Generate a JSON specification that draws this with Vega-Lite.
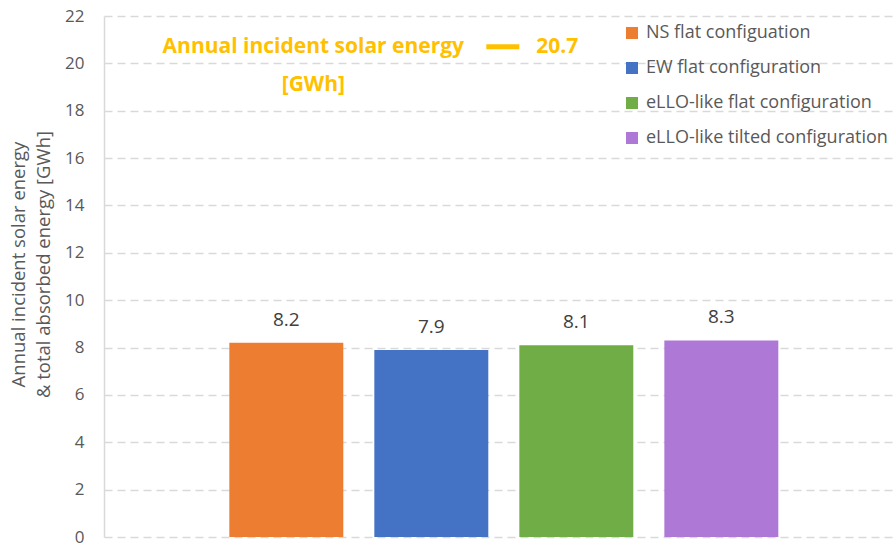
{
  "$schema": "https://vega.github.io/schema/vega-lite/v6.json",
  "width": 790,
  "height": 521,
  "autosize": {"type": "none"},
  "padding": {"left": 104, "top": 16, "right": 0, "bottom": 10},
  "background": "white",
  "config": {
    "font": "Open Sans",
    "view": {"stroke": null}
  },
  "datasets": {
    "bars": [
      {"config": "NS flat configuation", "energy": 8.2},
      {"config": "EW flat configuration", "energy": 7.9},
      {"config": "eLLO-like flat configuration", "energy": 8.1},
      {"config": "eLLO-like tilted configuration", "energy": 8.3}
    ],
    "incident": [
      {"config": "NS flat configuation", "label": ["Annual incident solar energy", "[GWh]"], "energy": 20.7}
    ]
  },
  "encoding": {
    "x": {
      "field": "config",
      "type": "nominal",
      "sort": null,
      "scale": {
        "domain": ["NS flat configuation", "EW flat configuration", "eLLO-like flat configuration", "eLLO-like tilted configuration"],
        "paddingInner": 0.214,
        "paddingOuter": 0.831,
        "align": 0.52
      },
      "axis": null
    },
    "y": {
      "field": "energy",
      "type": "quantitative",
      "scale": {"domain": [0, 22], "nice": false},
      "axis": {
        "values": [0, 2, 4, 6, 8, 10, 12, 14, 16, 18, 20, 22],
        "title": ["Annual incident solar energy", "& total absorbed energy [GWh]"],
        "titleFontSize": 18.5,
        "titleFontWeight": "normal",
        "titleColor": "#595959",
        "titlePadding": 11,
        "titleLineHeight": 25,
        "titleY": 248,
        "labelFontSize": 17,
        "labelColor": "#595959",
        "labelPadding": 20,
        "ticks": false,
        "domainColor": "#d9d9d9",
        "domainWidth": 1.5,
        "gridColor": "#d9d9d9",
        "gridDash": [8, 5],
        "gridWidth": 1.5
      }
    }
  },
  "layer": [
    {
      "data": {"name": "bars"},
      "mark": {"type": "bar"},
      "encoding": {
        "color": {
          "field": "config",
          "type": "nominal",
          "sort": null,
          "scale": {
            "domain": ["NS flat configuation", "EW flat configuration", "eLLO-like flat configuration", "eLLO-like tilted configuration"],
            "range": ["#ED7D31", "#4472C4", "#70AD47", "#AD78D6"]
          },
          "legend": {
            "title": null,
            "orient": "none",
            "legendX": 519,
            "legendY": 8,
            "symbolType": "square",
            "symbolSize": 144,
            "symbolStrokeWidth": 0,
            "labelFontSize": 18,
            "labelColor": "#595959",
            "labelOffset": 5,
            "labelLimit": 400,
            "rowPadding": 17
          }
        }
      }
    },
    {
      "data": {"name": "bars"},
      "mark": {"type": "text", "baseline": "middle", "dy": -23, "fontSize": 19, "color": "#404040"},
      "encoding": {
        "text": {"field": "energy", "type": "quantitative", "format": ".1f"}
      }
    },
    {
      "data": {"name": "incident"},
      "mark": {"type": "text", "align": "center", "baseline": "middle", "dx": 27, "dy": 0, "fontSize": 21, "fontWeight": "bold", "color": "#FFC000", "lineHeight": 38},
      "encoding": {
        "text": {"field": "label"}
      }
    },
    {
      "data": {"name": "incident"},
      "mark": {"type": "rule", "color": "#FFC000", "strokeWidth": 5, "xOffset": 55, "x2Offset": 88},
      "encoding": {
        "x": {"datum": "EW flat configuration"},
        "x2": {"datum": "EW flat configuration"}
      }
    },
    {
      "data": {"name": "incident"},
      "mark": {"type": "text", "align": "left", "baseline": "middle", "dx": -40, "fontSize": 21, "fontWeight": "bold", "color": "#FFC000"},
      "encoding": {
        "x": {"datum": "eLLO-like flat configuration"},
        "text": {"field": "energy", "type": "quantitative", "format": ".1f"}
      }
    }
  ]
}
